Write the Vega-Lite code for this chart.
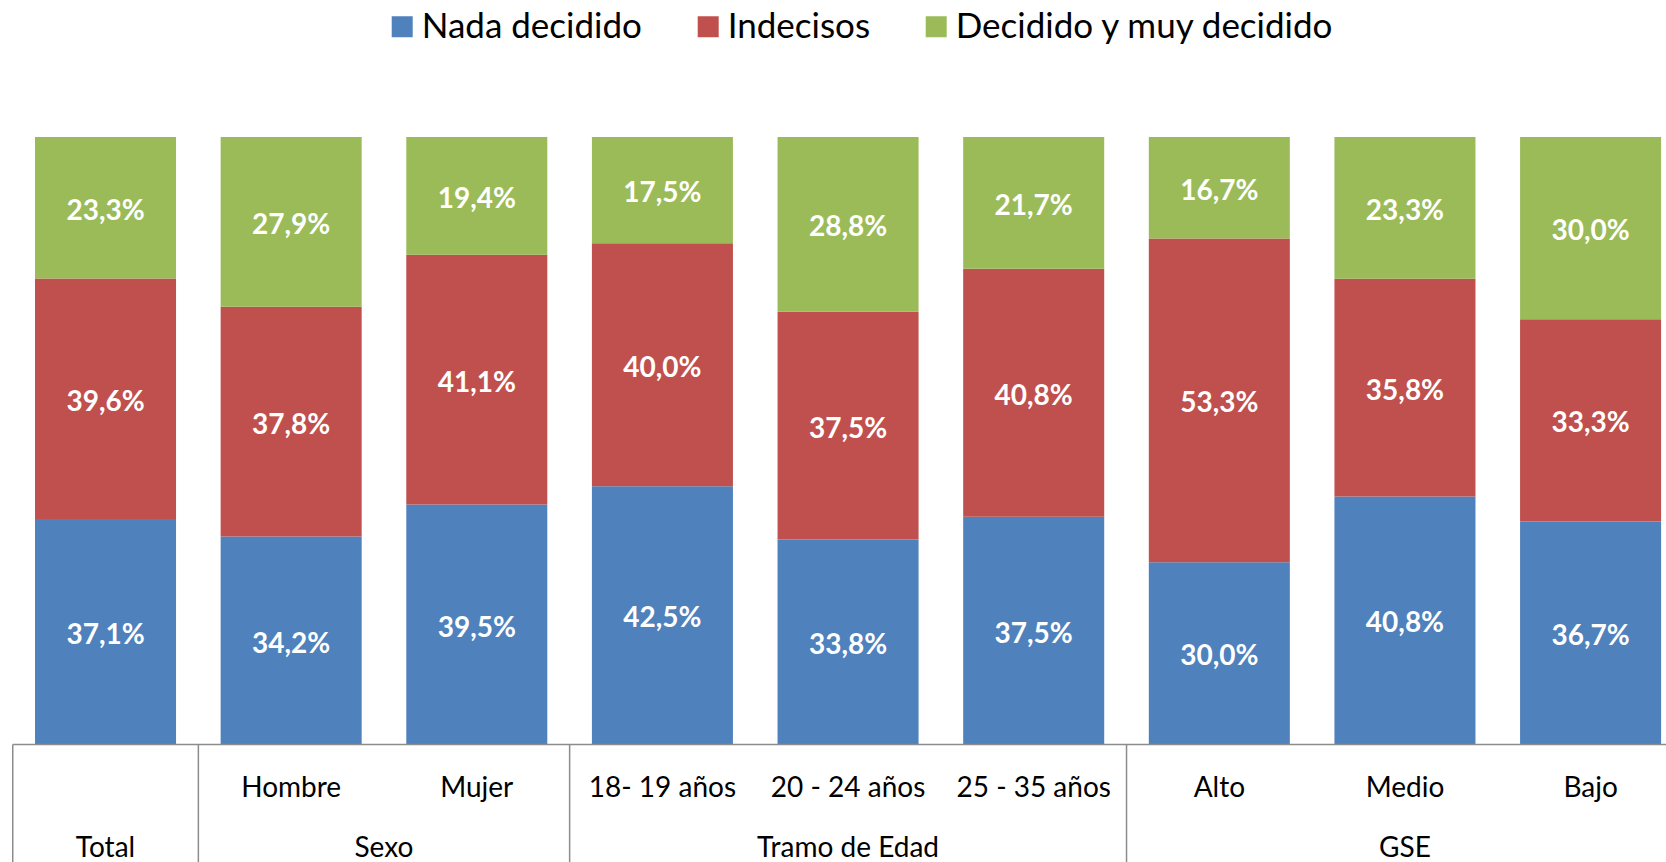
{
  "$schema": "https://vega.github.io/schema/vega-lite/v6.json",
  "width": 1653.3,
  "height": 725,
  "autosize": {"type": "none"},
  "padding": {"left": 12.7, "top": 137, "right": 0, "bottom": 0},
  "background": "white",
  "config": {
    "view": {"stroke": null},
    "font": "Lato",
    "locale": {"number": {"decimal": ",", "thousands": ".", "grouping": [3], "currency": ["", " €"]}}
  },
  "datasets": {
    "d": [
      {"cat": "Total", "serie": "Nada decidido", "v": 0.371},
      {"cat": "Total", "serie": "Indecisos", "v": 0.396},
      {"cat": "Total", "serie": "Decidido y muy decidido", "v": 0.233},
      {"cat": "Hombre", "serie": "Nada decidido", "v": 0.342},
      {"cat": "Hombre", "serie": "Indecisos", "v": 0.378},
      {"cat": "Hombre", "serie": "Decidido y muy decidido", "v": 0.279},
      {"cat": "Mujer", "serie": "Nada decidido", "v": 0.395},
      {"cat": "Mujer", "serie": "Indecisos", "v": 0.411},
      {"cat": "Mujer", "serie": "Decidido y muy decidido", "v": 0.194},
      {"cat": "18- 19 años", "serie": "Nada decidido", "v": 0.425},
      {"cat": "18- 19 años", "serie": "Indecisos", "v": 0.400},
      {"cat": "18- 19 años", "serie": "Decidido y muy decidido", "v": 0.175},
      {"cat": "20 - 24 años", "serie": "Nada decidido", "v": 0.338},
      {"cat": "20 - 24 años", "serie": "Indecisos", "v": 0.375},
      {"cat": "20 - 24 años", "serie": "Decidido y muy decidido", "v": 0.288},
      {"cat": "25  - 35 años", "serie": "Nada decidido", "v": 0.375},
      {"cat": "25  - 35 años", "serie": "Indecisos", "v": 0.408},
      {"cat": "25  - 35 años", "serie": "Decidido y muy decidido", "v": 0.217},
      {"cat": "Alto", "serie": "Nada decidido", "v": 0.300},
      {"cat": "Alto", "serie": "Indecisos", "v": 0.533},
      {"cat": "Alto", "serie": "Decidido y muy decidido", "v": 0.167},
      {"cat": "Medio", "serie": "Nada decidido", "v": 0.408},
      {"cat": "Medio", "serie": "Indecisos", "v": 0.358},
      {"cat": "Medio", "serie": "Decidido y muy decidido", "v": 0.233},
      {"cat": "Bajo", "serie": "Nada decidido", "v": 0.367},
      {"cat": "Bajo", "serie": "Indecisos", "v": 0.333},
      {"cat": "Bajo", "serie": "Decidido y muy decidido", "v": 0.300}
    ],
    "subs": [
      {"cat": "Hombre"}, {"cat": "Mujer"}, {"cat": "18- 19 años"}, {"cat": "20 - 24 años"},
      {"cat": "25  - 35 años"}, {"cat": "Alto"}, {"cat": "Medio"}, {"cat": "Bajo"}
    ],
    "grupos": [
      {"cat": "Total", "grp": "Total"},
      {"cat": "20 - 24 años", "grp": "Tramo de Edad"},
      {"cat": "Medio", "grp": "GSE"}
    ],
    "sexo": [{"cat": "Hombre", "grp": "Sexo"}],
    "seps": [{"cat": "Total"}, {"cat": "Hombre"}, {"cat": "18- 19 años"}, {"cat": "Alto"}],
    "one": [{"k": 0}]
  },
  "layer": [
    {
      "data": {"name": "d"},
      "mark": {"type": "bar"},
      "encoding": {
        "x": {
          "field": "cat", "type": "nominal",
          "scale": {
            "domain": ["Total", "Hombre", "Mujer", "18- 19 años", "20 - 24 años", "25  - 35 años", "Alto", "Medio", "Bajo"],
            "paddingInner": 0.2403, "paddingOuter": 0.0733, "align": 0.82
          },
          "axis": null
        },
        "y": {"field": "v", "type": "quantitative", "stack": "normalize",
              "scale": {"domain": [-0.1934, 1], "nice": false, "zero": false}, "axis": null},
        "color": {
          "field": "serie", "type": "nominal",
          "scale": {"domain": ["Nada decidido", "Indecisos", "Decidido y muy decidido"],
                    "range": ["#4F81BD", "#C0504D", "#9BBB59"]},
          "legend": {
            "orient": "none", "legendX": 372, "legendY": -128, "direction": "horizontal",
            "title": null, "symbolType": "square", "symbolSize": 441, "symbolStrokeWidth": 0,
            "labelFontSize": 35, "labelFont": "Lato", "labelColor": "#000000", "labelLimit": 0,
            "labelOffset": 2, "columnPadding": 48, "symbolOpacity": 1
          }
        },
        "order": {"field": "serie", "sort": "descending"}
      }
    },
    {
      "data": {"name": "d"},
      "mark": {"type": "text", "color": "white", "fontWeight": "bold", "fontSize": 28, "baseline": "middle", "align": "center", "dy": 4},
      "encoding": {
        "x": {"field": "cat", "type": "nominal"},
        "y": {"field": "v", "type": "quantitative", "stack": "normalize", "bandPosition": 0.5},
        "text": {"field": "v", "type": "quantitative", "format": ".1%"},
        "detail": {"field": "serie"},
        "order": {"field": "serie", "sort": "descending"}
      }
    },
    {
      "data": {"name": "one"},
      "mark": {"type": "rule", "color": "#8C8C8C", "strokeWidth": 1.5},
      "encoding": {"y": {"datum": 0}}
    },
    {
      "data": {"name": "seps"},
      "mark": {"type": "rule", "color": "#8C8C8C", "strokeWidth": 1.5},
      "encoding": {
        "x": {"field": "cat", "type": "nominal", "bandPosition": -0.158},
        "y": {"datum": 0},
        "y2": {"datum": -0.1934}
      }
    },
    {
      "data": {"name": "subs"},
      "mark": {"type": "text", "fontSize": 28, "color": "#000000", "baseline": "middle", "align": "center"},
      "encoding": {
        "x": {"field": "cat", "type": "nominal"},
        "y": {"datum": -0.0735},
        "text": {"field": "cat"}
      }
    },
    {
      "data": {"name": "grupos"},
      "mark": {"type": "text", "fontSize": 28, "color": "#000000", "baseline": "middle", "align": "center"},
      "encoding": {
        "x": {"field": "cat", "type": "nominal"},
        "y": {"datum": -0.1725},
        "text": {"field": "grp"}
      }
    },
    {
      "data": {"name": "sexo"},
      "mark": {"type": "text", "fontSize": 28, "color": "#000000", "baseline": "middle", "align": "center"},
      "encoding": {
        "x": {"field": "cat", "type": "nominal", "bandPosition": 1.158},
        "y": {"datum": -0.1725},
        "text": {"field": "grp"}
      }
    }
  ]
}
